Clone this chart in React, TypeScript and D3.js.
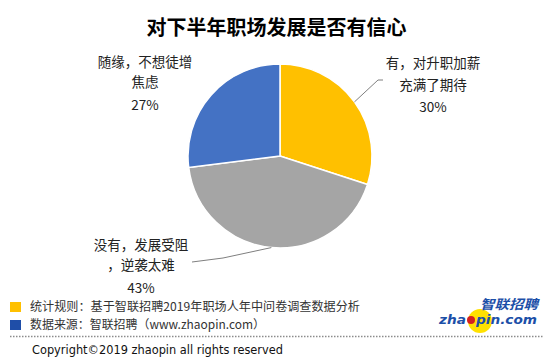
import React from "react";
import * as d3 from "d3";

const categories = ["有，对升职加薪充满了期待", "没有，发展受阻，逆袭太难", "随缘，不想徒增焦虑"];
const values = [30, 43, 27];
const colors = ["#FFC000", "#A5A5A5", "#4472C4"];
const labelLines = [
  ["有，对升职加薪", "充满了期待", "30%"],
  ["没有，发展受阻", "，逆袭太难", "43%"],
  ["随缘，不想徒增", "焦虑", "27%"],
];
const title = "对下半年职场发展是否有信心";
const legendItems = [
  { text: "统计规则：基于智联招聘2019年职场人年中问卷调查数据分析", color: "#FFC000" },
  { text: "数据来源：智联招聘（www.zhaopin.com）", color: "#1F4EA8" },
];
const copyright = "Copyright©2019 zhaopin all rights reserved";

const W = 553;
const H = 363;
const cx = 280;
const cy = 156;
const R = 92;
const CJK = "'Noto Sans CJK SC', 'Noto Sans', sans-serif";

export default function App() {
  const pie = d3.pie<number>().sort(null).startAngle(0).endAngle(2 * Math.PI);
  const arcs = pie(values);
  const arc = d3.arc<d3.PieArcDatum<number>>().innerRadius(0).outerRadius(R);
  const edge = (a: d3.PieArcDatum<number>) => {
    const m = (a.startAngle + a.endAngle) / 2;
    return [cx + R * Math.sin(m), cy - R * Math.cos(m)];
  };
  const labelPos = [
    { x: 433, ys: [63, 85, 107] },
    { x: 141, ys: [245, 265, 288] },
    { x: 145, ys: [62, 82, 105] },
  ];
  const line = d3.line();
  const p0 = edge(arcs[0]);
  const p1 = edge(arcs[1]);
  const leader0: [number, number][] = [[p0[0], p0[1]], [378, 80], [383, 80]];
  const leader1: [number, number][] = [[p1[0], p1[1]], [223, 258], [192, 262]];

  return (
    <svg
      width={W}
      height={H}
      style={{ position: "absolute", left: 0, top: 0, background: "#fff" }}
      viewBox={`0 0 ${W} ${H}`}
    >
      <rect width={W} height={H} fill="#fff" />
      <text
        x={276.5}
        y={28}
        dy="0.35em"
        textAnchor="middle"
        fontFamily={CJK}
        fontWeight="bold"
        fontSize={20}
        fill="#000"
      >
        {title}
      </text>
      <g transform={`translate(${cx},${cy})`}>
        {arcs.map((a, i) => (
          <path key={categories[i]} d={arc(a) || ""} fill={colors[i]} stroke="#fff" strokeWidth={1.5} />
        ))}
      </g>
      <path d={line(leader0) || ""} fill="none" stroke="#7f7f7f" strokeWidth={1} />
      <path d={line(leader1) || ""} fill="none" stroke="#7f7f7f" strokeWidth={1} />
      {labelLines.map((lines, i) =>
        lines.map((t, j) => (
          <text
            key={`${i}-${j}`}
            x={labelPos[i].x}
            y={labelPos[i].ys[j]}
            dy="0.35em"
            textAnchor="middle"
            fontFamily={CJK}
            fontSize={13.5}
            fill="#222"
          >
            {t}
          </text>
        ))
      )}
      {legendItems.map((l, i) => (
        <g key={l.text}>
          <rect x={10} y={302 + i * 18} width={11} height={10} fill={l.color} />
          <text x={30} y={307 + i * 18} dy="0.35em" fontFamily={CJK} fontSize={12} fill="#333" textLength={i === 0 ? 330 : 235} lengthAdjust="spacingAndGlyphs">
            {l.text}
          </text>
        </g>
      ))}
      <line x1={10} x2={543} y1={336.5} y2={336.5} stroke="#8c8c8c" strokeWidth={1.5} strokeDasharray="1.5 1.5" />
      <text
        x={32}
        y={350}
        dy="0.35em"
        fontFamily="'DejaVu Sans', sans-serif"
        fontSize={12.5}
        textLength={251}
        lengthAdjust="spacingAndGlyphs"
        fill="#111"
      >
        {copyright}
      </text>
      <g>
        <circle cx={480} cy={321} r={12} fill="#FFE100" />
        <text
          x={480}
          y={304}
          dy="0.35em"
          fontFamily={CJK}
          fontWeight="bold"
          fontStyle="italic"
          fontSize={13}
          fill="#1C4FA8"
          textLength={58}
          lengthAdjust="spacingAndGlyphs"
        >
          智联招聘
        </text>
        <text
          x={439}
          y={319}
          dy="0.35em"
          fontFamily="'DejaVu Sans', sans-serif"
          fontWeight="bold"
          fontStyle="italic"
          fontSize={13}
          fill="#1C4FA8"
          textLength={27}
          lengthAdjust="spacingAndGlyphs"
        >
          zha
        </text>
        <circle cx={471} cy={320} r={4} fill="#D42020" />
        <text
          x={476}
          y={319}
          dy="0.35em"
          fontFamily="'DejaVu Sans', sans-serif"
          fontWeight="bold"
          fontStyle="italic"
          fontSize={13}
          fill="#1C4FA8"
          textLength={61}
          lengthAdjust="spacingAndGlyphs"
        >
          pin.com
        </text>
      </g>
    </svg>
  );
}
